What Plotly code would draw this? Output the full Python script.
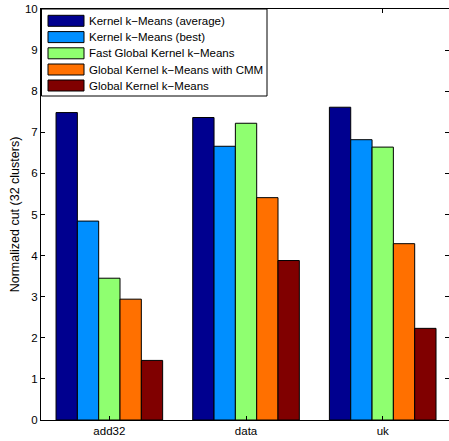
import plotly.graph_objects as go

categories = ["add32", "data", "uk"]
series_names = [
    "Kernel k−Means (average)",
    "Kernel k−Means (best)",
    "Fast Global Kernel k−Means",
    "Global Kernel k−Means with CMM",
    "Global Kernel k−Means",
]
kkm_average = [7.48, 7.36, 7.61]
kkm_best = [4.84, 6.66, 6.82]
fast_global_kkm = [3.45, 7.22, 6.64]
global_kkm_cmm = [2.94, 5.41, 4.29]
global_kkm = [1.45, 3.88, 2.23]
series_values = [kkm_average, kkm_best, fast_global_kkm, global_kkm_cmm, global_kkm]
colors = ["#00008F", "#008FFF", "#8FFF70", "#FF7000", "#800000"]
y_ticks = list(range(0, 11))

FONT = "Liberation Sans, Arial, Helvetica, sans-serif"
FS = 11.5
x_pos = [1, 2, 3]

fig = go.Figure()
for name, vals, col in zip(series_names, series_values, colors):
    fig.add_trace(go.Bar(
        x=x_pos, y=vals, name=name,
        marker=dict(color=col, line=dict(color="#000000", width=1)),
        showlegend=False,
    ))

# custom legend (MATLAB style wide swatches); coordinates in screen pixels
L, PW = 41, 408
T, PH = 9, 411
def px(xp):
    return (xp - L) / PW
def py(yp):
    return (T + PH - yp) / PH

shapes = [dict(type="rect", xref="paper", yref="paper",
               x0=px(41.5), x1=px(267), y0=py(96), y1=py(9),
               line=dict(color="black", width=1), fillcolor="white", layer="above")]
annotations = []
row_centers = [20.8, 37.1, 53.3, 69.5, 85.5]
for name, col, yc in zip(series_names, colors, row_centers):
    shapes.append(dict(type="rect", xref="paper", yref="paper",
                       x0=px(48), x1=px(84), y0=py(yc + 5.5), y1=py(yc - 5.5),
                       line=dict(color="black", width=1), fillcolor=col, layer="above"))
    annotations.append(dict(xref="paper", yref="paper", x=px(87), y=py(yc),
                            text=name, showarrow=False, xanchor="left", yanchor="middle",
                            font=dict(family=FONT, size=FS, color="black")))

fig.update_layout(
    width=449, height=441,
    margin=dict(l=L, r=0, t=T, b=441 - (T + PH), pad=0, autoexpand=False),
    paper_bgcolor="white", plot_bgcolor="white",
    bargap=0.22, bargroupgap=0, barmode="group",
    font=dict(family=FONT, size=FS, color="black"),
    shapes=shapes, annotations=annotations,
    xaxis=dict(
        range=[0.5, 3.485], tickvals=x_pos, ticktext=categories,
        ticks="inside", ticklen=4, tickcolor="black", tickwidth=1,
        showline=True, linecolor="black", linewidth=1, mirror="ticks",
        showgrid=False, zeroline=False,
        tickfont=dict(family=FONT, size=FS, color="black"),
    ),
    yaxis=dict(
        range=[0, 10], tickvals=y_ticks,
        ticks="inside", ticklen=4, tickcolor="black", tickwidth=1,
        showline=True, linecolor="black", linewidth=1, mirror="ticks",
        showgrid=False, zeroline=False,
        tickfont=dict(family=FONT, size=FS, color="black"),
        title=dict(text="Normalized cut (32 clusters)", standoff=2,
                   font=dict(family=FONT, size=12.5, color="black")),
    ),
)

# remove the default page margin so the figure sits at the window's top-left corner
fig.write_html("out.html", config={"displayModeBar": False},
               post_script="document.body.style.margin='0';")
